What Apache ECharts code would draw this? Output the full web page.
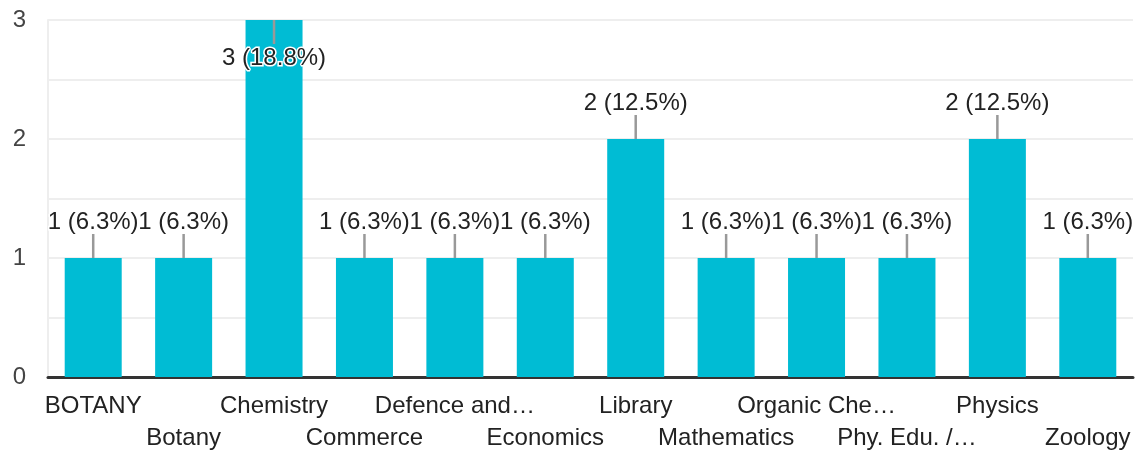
<!DOCTYPE html>
<html>
<head>
<meta charset="utf-8">
<script src="https://cdn.jsdelivr.net/npm/echarts@6/dist/echarts.min.js"></script>
<style>html,body{margin:0;padding:0;background:#fff;}#c{width:1141px;height:455px;}</style>
</head>
<body>
<div id="c"></div>
<script>
const categories = ['BOTANY','Botany','Chemistry','Commerce','Defence and…','Economics','Library','Mathematics','Organic Che…','Phy. Edu. /…','Physics','Zoology'];
const counts = [1,1,3,1,1,1,2,1,1,1,2,1];
const yTicks = [0,1,2,3];
const Y_MAX = 3;
const total = counts.reduce((a,b)=>a+b,0);
const FONT = 'Arial, "Liberation Sans", sans-serif';

const chart = echarts.init(document.getElementById('c'), null, {renderer:'canvas'});
const barData = counts.map(v => v >= Y_MAX
  ? {value:v, label:{position:'insideTop', distance:26}}
  : v);

chart.setOption({
  animation:false,
  grid:{left:48, right:8, top:20, bottom:78},
  xAxis:{
    type:'category', data:categories,
    axisLine:{lineStyle:{color:'#333', width:3}},
    axisTick:{show:false},
    axisLabel:{interval:0, fontSize:24, lineHeight:32, margin:13, color:'#222', fontFamily:FONT,
      formatter:(v,i)=> i%2 ? '\n'+v : v}
  },
  yAxis:{
    type:'value', min:0, max:Y_MAX, interval:0.5,
    axisLine:{show:true, lineStyle:{color:'#eee', width:2}},
    axisTick:{show:false},
    splitLine:{lineStyle:{color:'#eee', width:2}},
    axisLabel:{fontSize:24, color:'#444', margin:22, fontFamily:FONT,
      formatter:v => yTicks.includes(v) ? String(v) : ''}
  },
  series:[
    {
      type:'bar', data:barData, barWidth:57, itemStyle:{color:'#00BCD4'},
      label:{show:true, position:'top', distance:24, fontSize:24, color:'#222', fontFamily:FONT,
        textBorderColor:'#fff', textBorderWidth:3,
        formatter:p => p.value + ' (' + (p.value/total*100).toFixed(1) + '%)'},
      z:2
    },
    {
      type:'custom', z:3,
      data:counts.map((v,i)=>[i,v]),
      renderItem:(params, api)=>{
        const v = api.value(1);
        const p = api.coord([api.value(0), v]);
        const end = v >= Y_MAX ? p[1] + 24 : p[1] - 24;
        return {type:'line', shape:{x1:p[0], y1:p[1], x2:p[0], y2:end},
          style:{stroke:'#999', lineWidth:2.5}};
      }
    }
  ]
});
</script>
</body>
</html>
